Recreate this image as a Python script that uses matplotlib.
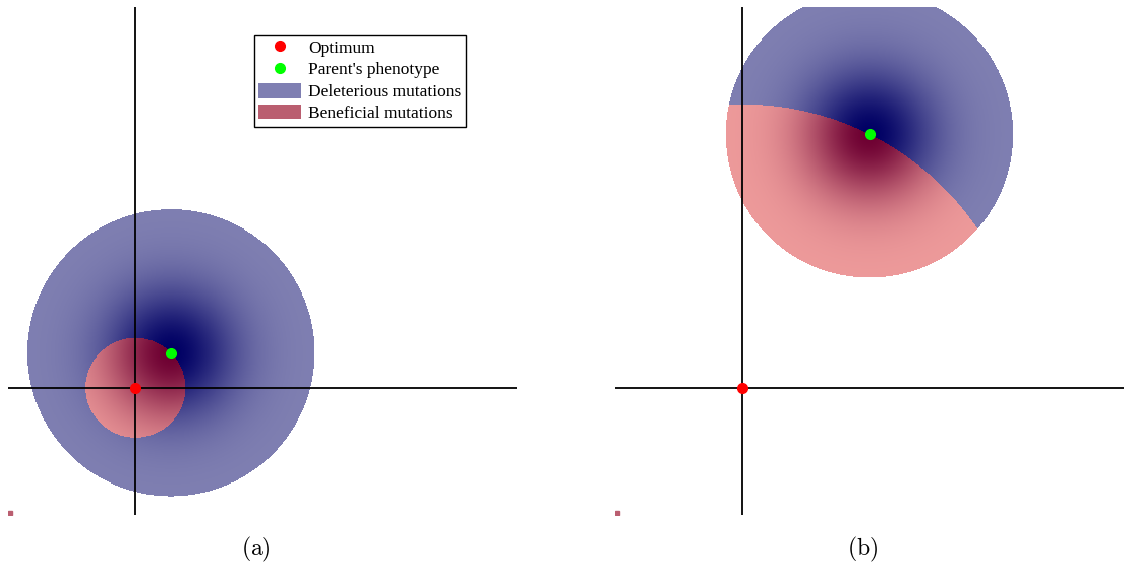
import numpy as np
import matplotlib
matplotlib.use("Agg")
import matplotlib.pyplot as plt
from matplotlib.patches import Patch
from matplotlib.lines import Line2D

plt.rcParams['mathtext.fontset'] = 'cm'

# data (units: distance in phenotype space, optimum at origin)
optimum = (0.0, 0.0)
parents = [(0.7, 0.69), (2.5, 5.0)]
mutation_radius = 2.83
sigma = 0.9
panel_labels = [r'$\mathrm{(a)}$', r'$\mathrm{(b)}$']
legend_labels = ['Optimum', "Parent's phenotype", 'Deleterious mutations', 'Beneficial mutations']
lims = (-2.5, 7.5)

blue_center = np.array([0, 0, 100]) / 255
blue_edge = np.array([128, 128, 178]) / 255
red_center = np.array([110, 0, 50]) / 255
red_edge = np.array([238, 155, 155]) / 255
legend_red = '#ba5e70'
legend_blue = '#7f7fb2'


def mutation_image(parent, n=500):
    xs = np.linspace(lims[0], lims[1], n)
    X, Y = np.meshgrid(xs, xs)
    d = np.hypot(X - parent[0], Y - parent[1])
    d_opt = np.hypot(X - optimum[0], Y - optimum[1])
    r_parent = np.hypot(parent[0] - optimum[0], parent[1] - optimum[1])
    w = np.exp(-d ** 2 / (2 * sigma ** 2))[..., None]
    img = np.ones((n, n, 4))
    blue = blue_edge + w * (blue_center - blue_edge)
    red = red_edge + w * (red_center - red_edge)
    inside = d <= mutation_radius
    benef = inside & (d_opt < r_parent)
    img[..., :3] = np.where(benef[..., None], red, blue)
    img[..., 3] = inside.astype(float)
    return img


fig = plt.figure(figsize=(11.26, 5.62), dpi=100)
W, H = 1126, 562
lefts = [8, 615]

for i, parent in enumerate(parents):
    ax = fig.add_axes([lefts[i] / W, 1 - 515 / H, 509 / W, 508 / H])
    ax.imshow(mutation_image(parent), extent=[lims[0], lims[1], lims[0], lims[1]],
              origin='lower', interpolation='nearest', zorder=0)
    ax.axhline(0, color='black', lw=1.3, zorder=2)
    ax.axvline(0, color='black', lw=1.3, zorder=2)
    ax.plot(optimum[0], optimum[1], 'o', color='red', ms=7, zorder=3)
    ax.plot(parent[0], parent[1], 'o', color='#00ff00', ms=7, zorder=3)
    ax.plot(-2.455, -2.455, 's', color=legend_red, ms=3, zorder=3)
    ax.set_xlim(lims)
    ax.set_ylim(lims)
    ax.set_aspect('auto')
    ax.axis('off')
    fig.text((lefts[i] + 248) / W, 1 - 549 / H, panel_labels[i], fontsize=17,
             ha='center', va='center')

    if i == 0:
        handles = [
            Line2D([], [], ls='', marker='o', color='red', ms=7),
            Line2D([], [], ls='', marker='o', color='#00ff00', ms=7),
            Patch(facecolor=legend_blue, edgecolor='none'),
            Patch(facecolor=legend_red, edgecolor='none'),
        ]
        ax.legend(handles, legend_labels, loc='upper right',
                  bbox_to_anchor=(466 / W, 1 - 35 / H), bbox_transform=fig.transFigure,
                  prop={'family': 'Liberation Serif', 'size': 12.5},
                  frameon=True, fancybox=False, edgecolor='black', framealpha=1,
                  handlelength=2.5, handleheight=0.9, borderpad=0.25,
                  labelspacing=0.27, handletextpad=0.4, borderaxespad=0)

fig.savefig('out.png', dpi=100)
